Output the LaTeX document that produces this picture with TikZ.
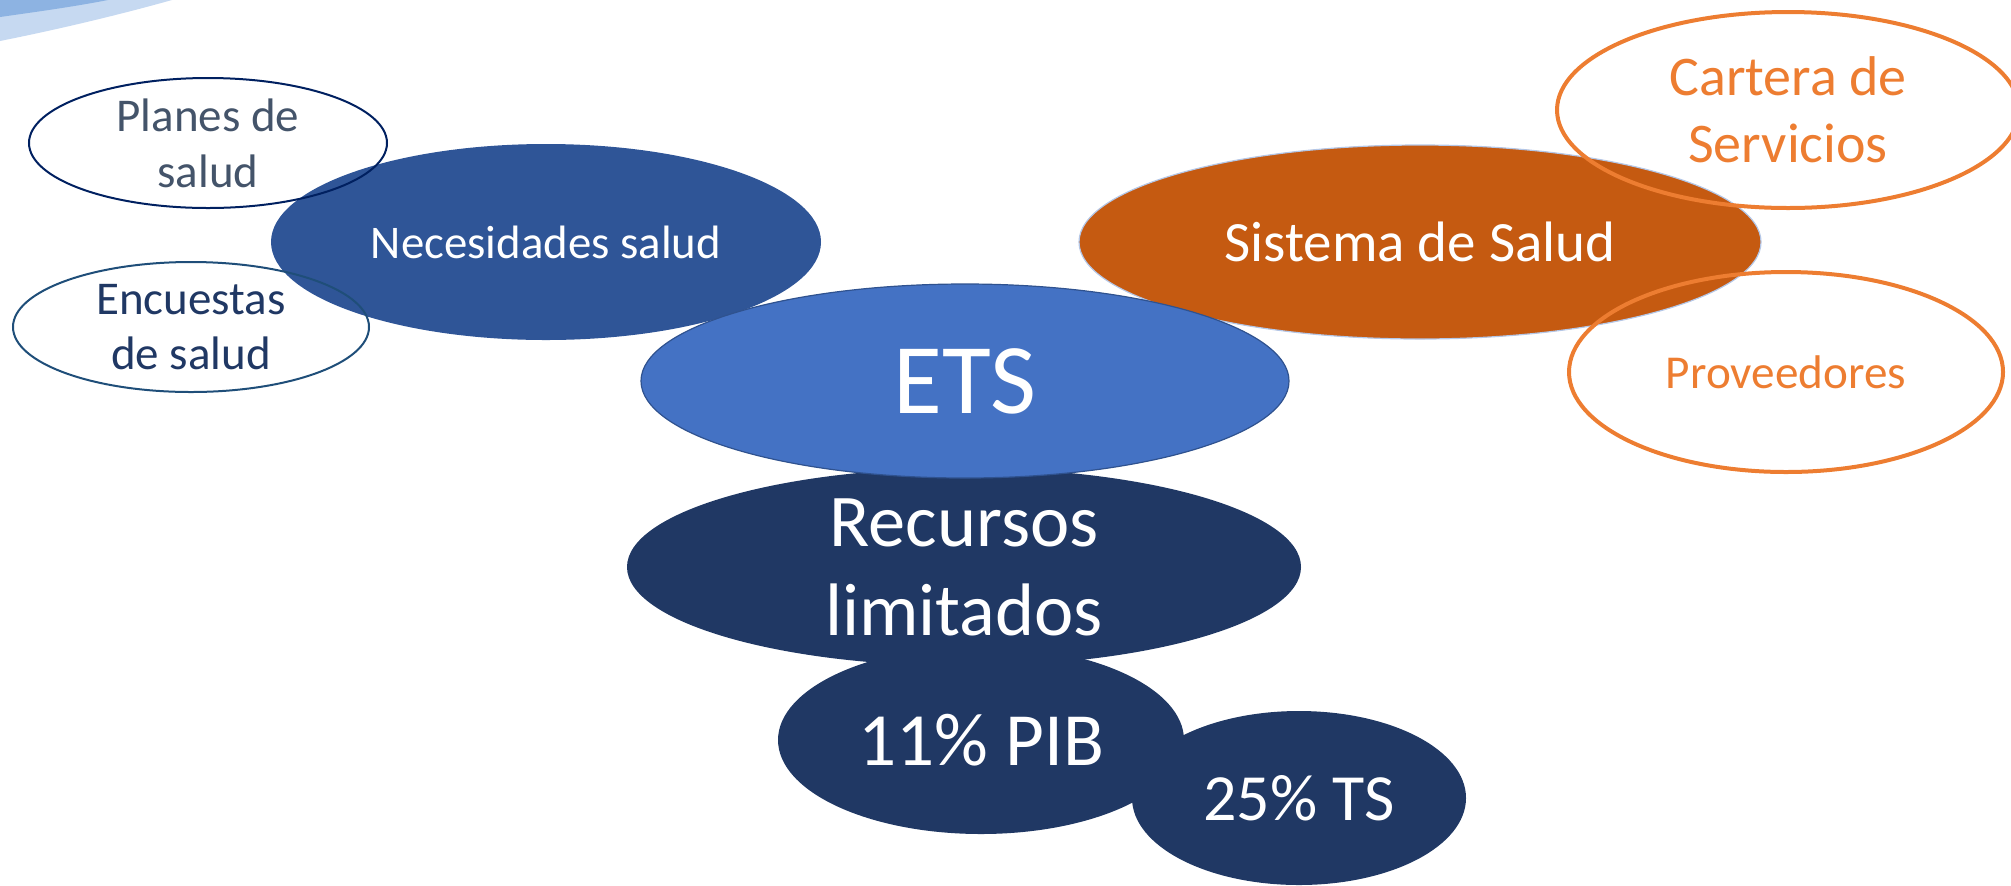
\documentclass[tikz,border=0pt]{standalone}
\usepackage{fontspec}
\setmainfont{Carlito}
\usetikzlibrary{shapes.geometric}
\definecolor{necblue}{HTML}{2F5597}
\definecolor{etsblue}{HTML}{4472C4}
\definecolor{etsline}{HTML}{2F528F}
\definecolor{navy}{HTML}{203864}
\definecolor{rust}{HTML}{C55A11}
\definecolor{orng}{HTML}{ED7D31}
\definecolor{planesline}{HTML}{002060}
\definecolor{planestext}{HTML}{44546A}
\definecolor{encline}{HTML}{1F4E79}
\definecolor{paleline}{HTML}{B4C7E7}
\definecolor{swooshdark}{HTML}{8DB3E2}
\definecolor{swooshlight}{HTML}{C6D9F1}
\tikzset{
  blob/.style={ellipse, inner sep=0pt, outer sep=0pt},
  lbl/.style={inner sep=0pt, align=center},
}
\newcommand{\fs}[2]{\fontsize{#1}{#2}\selectfont}
\begin{document}
\begin{tikzpicture}[x=0.5pt,y=-0.5pt]
\useasboundingbox (0,0) rectangle (2011,885);
\clip (0,0) rectangle (2011,885);
% decorative swoosh top-left
\fill[swooshlight] (0,0) -- (172,0) .. controls (115,16) and (55,30) .. (0,41) -- cycle;
\fill[swooshdark] (0,0) -- (108,0) .. controls (72,7) and (35,12) .. (0,17) -- cycle;
% left group
\node[blob, fill=necblue, minimum width=275pt, minimum height=98pt] (nec) at (546,242) {};
\node[blob, draw=planesline, line width=1pt, minimum width=179pt, minimum height=65pt] (planes) at (208,143) {};
\node[blob, draw=encline, line width=1pt, minimum width=178pt, minimum height=65pt] (enc) at (191,327) {};
% right group
\node[blob, fill=rust, draw=paleline, line width=0.6pt, minimum width=341pt, minimum height=97pt] (sis) at (1420,242) {};
\node[blob, draw=orng, line width=2pt, minimum width=231pt, minimum height=98pt] (cart) at (1788,110) {};
\node[blob, draw=orng, line width=2pt, minimum width=217pt, minimum height=100pt] (prov) at (1786,372) {};
% bottom group
\node[blob, fill=navy, minimum width=167pt, minimum height=87pt] (ts) at (1299,798) {};
\node[blob, fill=navy, minimum width=203pt, minimum height=94pt] (pib) at (981,740) {};
\node[blob, fill=navy, minimum width=337pt, minimum height=99pt] (rec) at (964,567) {};
\node[blob, fill=etsblue, draw=etsline, line width=0.6pt, minimum width=324pt, minimum height=97pt] (ets) at (965,381) {};
% texts
\node[lbl, text=white, font=\fs{23.4}{28}] (nec-t) at (nec.center) {Necesidades salud};
\node[lbl, text=planestext, font=\fs{23.5}{28}] (planes-t) at (planes.center) {Planes de\\salud};
\node[lbl, text=navy, font=\fs{23.5}{27.5}] (enc-t) at (enc.center) {Encuestas\\de salud};
\node[lbl, text=white, font=\fs{28.5}{34}] (sis-t) at (sis.center) {Sistema de Salud};
\node[lbl, text=orng, font=\fs{28}{33.5}] (cart-t) at (cart.center) {Cartera de\\Servicios};
\node[lbl, text=orng, font=\fs{23.6}{28}] (prov-t) at (prov.center) {Proveedores};
\node[lbl, text=white, font=\fs{50}{60}] (ets-t) at (ets.center) {ETS};
\node[lbl, text=white, font=\fs{37.2}{44.5}] (rec-t) at (rec.center) {Recursos\\limitados};
\node[lbl, text=white, font=\fs{37.6}{45}] (pib-t) at (pib.center) {11\% PIB};
\node[lbl, text=white, font=\fs{33}{40}] (ts-t) at (ts.center) {25\% TS};
\end{tikzpicture}
\end{document}
